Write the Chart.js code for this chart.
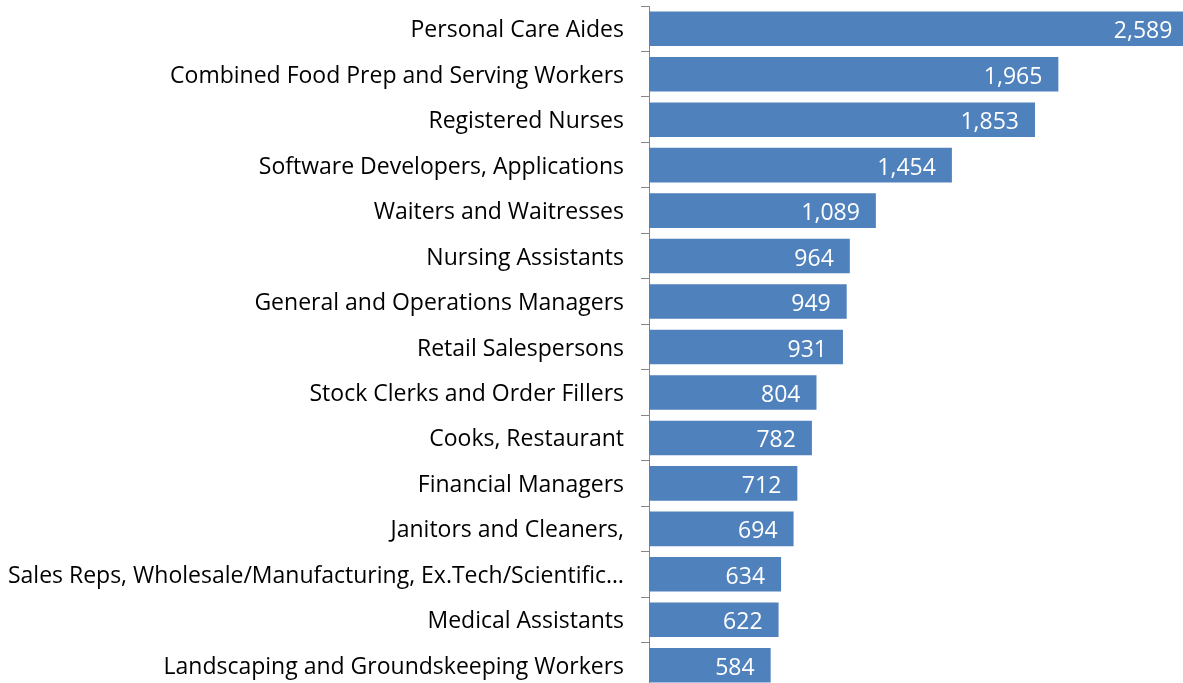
<!DOCTYPE html>
<html>
<head>
<meta charset="utf-8">
<script src="https://cdn.jsdelivr.net/npm/chart.js@4/dist/chart.umd.min.js"></script>
<style>
  html, body { margin: 0; padding: 0; background: #fff; overflow: hidden; }
  #wrap { width: 1200px; height: 688px; }
</style>
</head>
<body>
<div id="wrap"><canvas id="myGraph"></canvas></div>
<script>
// Occupations and their values, top to bottom
var occupations = [
    'Personal Care Aides',
    'Combined Food Prep and Serving Workers',
    'Registered Nurses',
    'Software Developers, Applications',
    'Waiters and Waitresses',
    'Nursing Assistants',
    'General and Operations Managers',
    'Retail Salespersons',
    'Stock Clerks and Order Fillers',
    'Cooks, Restaurant',
    'Financial Managers',
    'Janitors and Cleaners,',
    'Sales Reps, Wholesale/Manufacturing, Ex.Tech/Scientific\u2026',
    'Medical Assistants',
    'Landscaping and Groundskeeping Workers'
];
var counts = [2589, 1965, 1853, 1454, 1089, 964, 949, 931, 804, 782, 712, 694, 634, 622, 584];

var fontFamily = "'Open Sans', sans-serif";

// Draw the value inside the end of each bar
var valueLabels = {
    id: 'valueLabels',
    afterDatasetsDraw: function (chart) {
        var ctx = chart.ctx;
        var meta = chart.getDatasetMeta(0);
        ctx.save();
        ctx.font = '23px ' + fontFamily;
        ctx.fillStyle = '#fff';
        ctx.textAlign = 'right';
        ctx.textBaseline = 'middle';
        meta.data.forEach(function (bar, i) {
            ctx.fillText(counts[i].toLocaleString('en-US'), bar.x - 16, bar.y + 3);
        });
        ctx.restore();
    }
};

var ctx = document.getElementById('myGraph').getContext('2d');

var chart = new Chart(ctx, {
    type: 'bar',
    data: {
        labels: occupations,
        datasets: [{
            data: counts,
            backgroundColor: '#4F81BD',
            borderWidth: 0,
            categoryPercentage: 1,
            barPercentage: 0.76
        }]
    },
    options: {
        indexAxis: 'y',
        responsive: true,
        maintainAspectRatio: false,
        animation: false,
        layout: { padding: { top: 6, bottom: 0, left: 0, right: 0 } },
        plugins: {
            legend: { display: false },
            tooltip: { enabled: false }
        },
        scales: {
            x: {
                display: false,
                min: 0,
                max: 2645
            },
            y: {
                // fixed axis width, no extra room above/below for labels
                afterFit: function (scale) {
                    scale.width = 649;
                    scale.paddingTop = 0;
                    scale.paddingBottom = 0;
                },
                border: { display: true, color: '#868686', width: 1 },
                grid: {
                    drawOnChartArea: false,
                    drawTicks: true,
                    tickLength: 8,
                    color: '#868686'
                },
                ticks: {
                    color: '#000',
                    padding: 17,
                    labelOffset: 2,
                    autoSkip: false,
                    font: { family: fontFamily, size: 23 }
                }
            }
        }
    },
    plugins: [valueLabels]
});
</script>
</body>
</html>
